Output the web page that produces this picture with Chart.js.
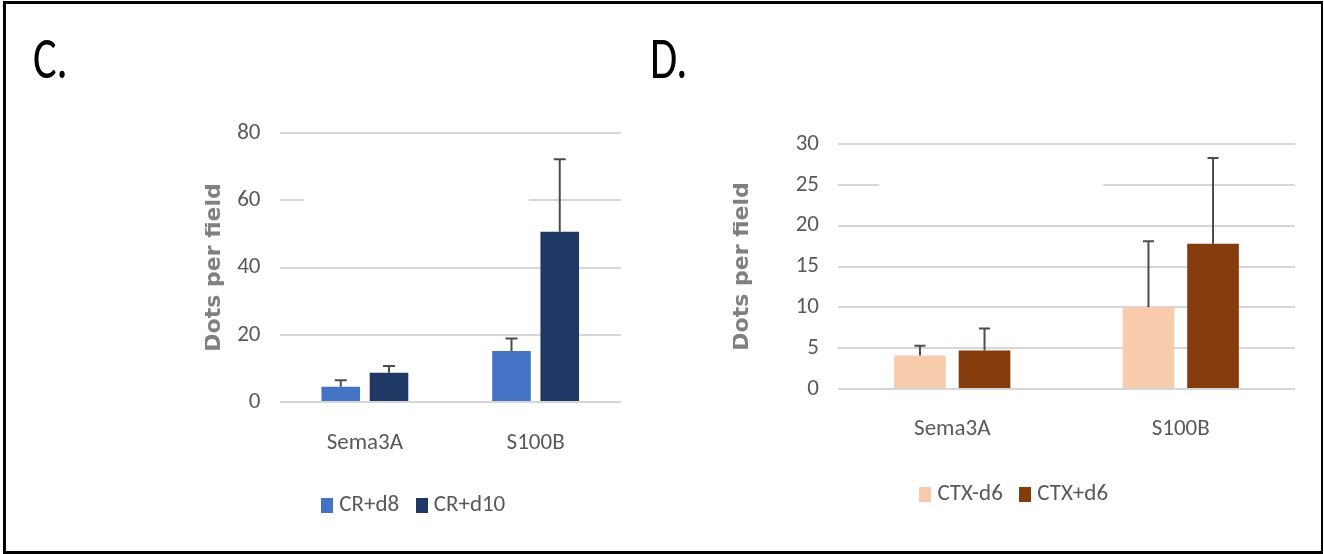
<!DOCTYPE html>
<html>
<head>
<meta charset="utf-8">
<script src="https://cdn.jsdelivr.net/npm/chart.js@4.4.1/dist/chart.umd.min.js"></script>
<style>
  html, body { margin: 0; padding: 0; background: #fff; }
  body { width: 1324px; height: 554px; position: relative; overflow: hidden; }
  #frame { position: absolute; left: 3px; top: 1px; width: 1320px; height: 553px; box-sizing: border-box;
           border: 3px solid #000; border-right-width: 2px; }
  .panel { position: absolute; font-family: Carlito, 'Open Sans', sans-serif;
           font-size: 59px; line-height: 59px; color: #000; transform: scaleX(0.75); transform-origin: 0 0; white-space: nowrap; }
  canvas { position: absolute; }
</style>
</head>
<body>
<div id="frame"></div>
<div class="panel" style="left:33px; top:29px;">C.</div>
<div class="panel" style="left:650px; top:29px;">D.</div>
<canvas id="chartC" width="426" height="430" style="left:205px; top:100px;"></canvas>
<canvas id="chartD" width="572" height="419" style="left:733px; top:100px;"></canvas>
<script>
// ---- data ----
const CATEGORIES = ['Sema3A', 'S100B'];

const C_SERIES = ['CR+d8', 'CR+d10'];
const C_CR_D8 = [4.5, 15.2];
const C_CR_D8_ERR = [2.0, 3.7];
const C_CR_D10 = [8.7, 50.6];
const C_CR_D10_ERR = [2.0, 21.6];
const C_Y_TICKS = [0, 20, 40, 60, 80];

const D_SERIES = ['CTX-d6', 'CTX+d6'];
const D_CTX_MINUS = [4.1, 10.0];
const D_CTX_MINUS_ERR = [1.2, 8.1];
const D_CTX_PLUS = [4.7, 17.8];
const D_CTX_PLUS_ERR = [2.7, 10.5];
const D_Y_TICKS = [0, 5, 10, 15, 20, 25, 30];

const AXIS_TITLE = 'Dots per field';

// ---- styles ----
const FONT = "Carlito, 'Liberation Sans', sans-serif";
const TEXT_COLOR = '#595959';

function swatch(color) {
  const c = document.createElement('canvas');
  c.width = 12; c.height = 15;
  const g = c.getContext('2d');
  g.fillStyle = color;
  g.fillRect(0, 0, 12, 15);
  return c;
}

const errorBarsPlugin = {
  id: 'errorBars',
  afterDatasetsDraw(chart, args, opts) {
    const ctx = chart.ctx;
    const yScale = chart.scales.y;
    ctx.save();
    ctx.strokeStyle = opts.color;
    ctx.lineWidth = opts.width;
    chart.data.datasets.forEach((ds, i) => {
      const meta = chart.getDatasetMeta(i);
      meta.data.forEach((bar, j) => {
        const v = ds.data[j], e = ds.errors[j];
        const yTop = yScale.getPixelForValue(v + e);
        const yBase = yScale.getPixelForValue(v);
        ctx.beginPath();
        ctx.moveTo(bar.x, yBase);
        ctx.lineTo(bar.x, yTop);
        ctx.moveTo(bar.x - opts.cap / 2, yTop);
        ctx.lineTo(bar.x + opts.cap / 2, yTop);
        ctx.stroke();
      });
    });
    ctx.restore();
  }
};

const gridGapPlugin = {
  id: 'gridGap',
  beforeDatasetsDraw(chart, args, opts) {
    if (!opts || !opts.gaps) return;
    const ctx = chart.ctx;
    const x = chart.scales.x, y = chart.scales.y;
    ctx.save();
    ctx.fillStyle = '#ffffff';
    opts.gaps.forEach(g => {
      const py = y.getPixelForValue(g.value);
      const x0 = x.getPixelForValue(g.from), x1 = x.getPixelForValue(g.to);
      ctx.fillRect(x0, py - 2.5, x1 - x0, 5);
    });
    ctx.restore();
  }
};

function makeChart(id, cfg) {
  const ticks = cfg.yTicks;
  return new Chart(document.getElementById(id), {
    type: 'bar',
    data: {
      labels: CATEGORIES,
      datasets: cfg.series.map((name, i) => ({
        label: name,
        data: cfg.values[i],
        errors: cfg.errors[i],
        backgroundColor: cfg.colors[i],
        pointStyle: swatch(cfg.colors[i]),
        borderWidth: 0,
        categoryPercentage: 0.565,
        barPercentage: 0.8
      }))
    },
    options: {
      responsive: false,
      animation: false,
      devicePixelRatio: 1,
      layout: { padding: { left: cfg.padLeft, right: 10, top: cfg.padTop, bottom: 3 } },
      plugins: {
        legend: {
          position: 'bottom',
          labels: { usePointStyle: true, pointStyleWidth: 1, boxHeight: 15, padding: 22, color: TEXT_COLOR,
                    font: { family: FONT, size: 23 } }
        },
        tooltip: { enabled: false },
        errorBars: { color: '#4d4d4d', width: 2, cap: cfg.cap },
        gridGap: { gaps: cfg.gaps }
      },
      scales: {
        x: {
          grid: { display: false, drawTicks: false },
          border: { display: false },
          ticks: { padding: cfg.xPad, color: TEXT_COLOR, font: { family: FONT, size: 23 } },
          afterFit: s => { s.height = cfg.xH; }
        },
        y: {
          min: ticks[0],
          max: ticks[ticks.length - 1],
          ticks: { stepSize: ticks[1] - ticks[0], padding: 19, color: TEXT_COLOR,
                   font: { family: FONT, size: 23 } },
          grid: { color: '#d6d6d6', lineWidth: 2, drawTicks: false },
          border: { display: false },
          title: { display: true, text: AXIS_TITLE, color: '#808080',
                   font: { family: "'DejaVu Sans', sans-serif", weight: 'bold', size: 22, lineHeight: 0.9 },
                   padding: { top: cfg.titlePad, bottom: 0 } },
          afterFit: s => { s.width = cfg.yW; }
        }
      }
    },
    plugins: [gridGapPlugin, errorBarsPlugin]
  });
}

makeChart('chartC', {
  series: C_SERIES,
  values: [C_CR_D8, C_CR_D10],
  errors: [C_CR_D8_ERR, C_CR_D10_ERR],
  colors: ['#4472C4', '#203864'],
  yTicks: C_Y_TICKS,
  padLeft: 6, padTop: 33, yW: 68.5, xH: 70, xPad: 27, cap: 12, titlePad: -6.9,
  gaps: [{ value: 60, from: -0.36, to: 0.96 }]
});

makeChart('chartD', {
  series: D_SERIES,
  values: [D_CTX_MINUS, D_CTX_PLUS],
  errors: [D_CTX_MINUS_ERR, D_CTX_PLUS_ERR],
  colors: ['#F8CBAD', '#843C0C'],
  yTicks: D_Y_TICKS,
  padLeft: 5, padTop: 44, yW: 100, xH: 72, xPad: 26, cap: 11, titlePad: -5.4,
  gaps: [{ value: 25, from: -0.32, to: 0.66 }]
});
</script>
</body>
</html>
